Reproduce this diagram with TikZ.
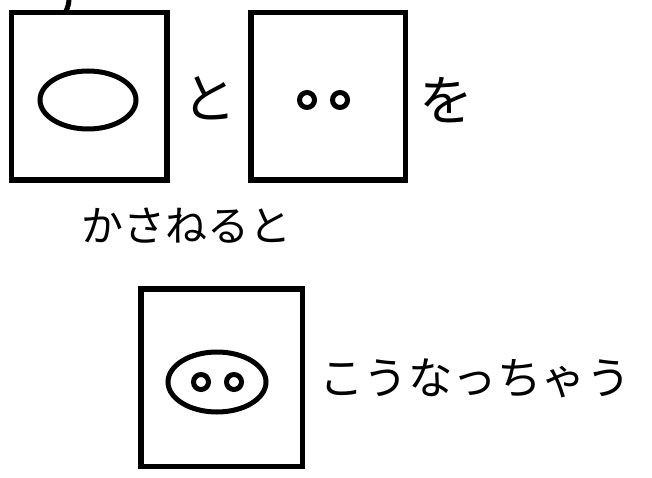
\documentclass[tikz,border=0pt]{standalone}
\usepackage{fontspec}
\newfontfamily\jpfont{Noto Sans CJK JP}
\usetikzlibrary{positioning}

\begin{document}
\begin{tikzpicture}[x=1pt,y=-1pt,
    card/.style={draw,line width=5.5pt,minimum width=155.5pt,minimum height=167.5pt,inner sep=0pt},
    eye/.style={line width=5pt},
    word/.style={inner sep=0pt,font=\jpfont}]
    \useasboundingbox (0,0) rectangle (652,478);

    % les deux cartes du haut
    \node[card] (carteA) at (89,96.5) {};
    \node[card,minimum width=154.5pt] (carteB) at (328,96.5) {};
    \draw[line width=5pt] (88,100) ellipse [x radius=48pt,y radius=29pt];
    \draw[eye] (307,100) circle [radius=7.5pt];
    \draw[eye] (340,100) circle [radius=7.5pt];

    % petit trait en haut
    \draw[line width=5pt,line cap=round] (69,0) to[bend left=10] (66,11);

    \node[word,font=\jpfont\fontsize{54}{60}\selectfont] (to) at (209,98) {と};
    \node[word,font=\jpfont\fontsize{54}{60}\selectfont] (wo) at (446,100) {を};
    \node[word,font=\jpfont\fontsize{42}{48}\selectfont] (kasaneru) at (186,226) {かさねると};

    % le resultat
    \node[card,minimum width=161.5pt,minimum height=177.5pt] (carteC) at (221.5,377.5) {};
    \draw[line width=5pt] (217,382) ellipse [x radius=49pt,y radius=30pt];
    \draw[eye] (201,382) circle [radius=7.5pt];
    \draw[eye] (234,382) circle [radius=7.5pt];
    \node[word,font=\jpfont\fontsize{44.5}{50}\selectfont,anchor=west] (kounacchau) at (319,378) {こうなっちゃう};
\end{tikzpicture}
\end{document}
